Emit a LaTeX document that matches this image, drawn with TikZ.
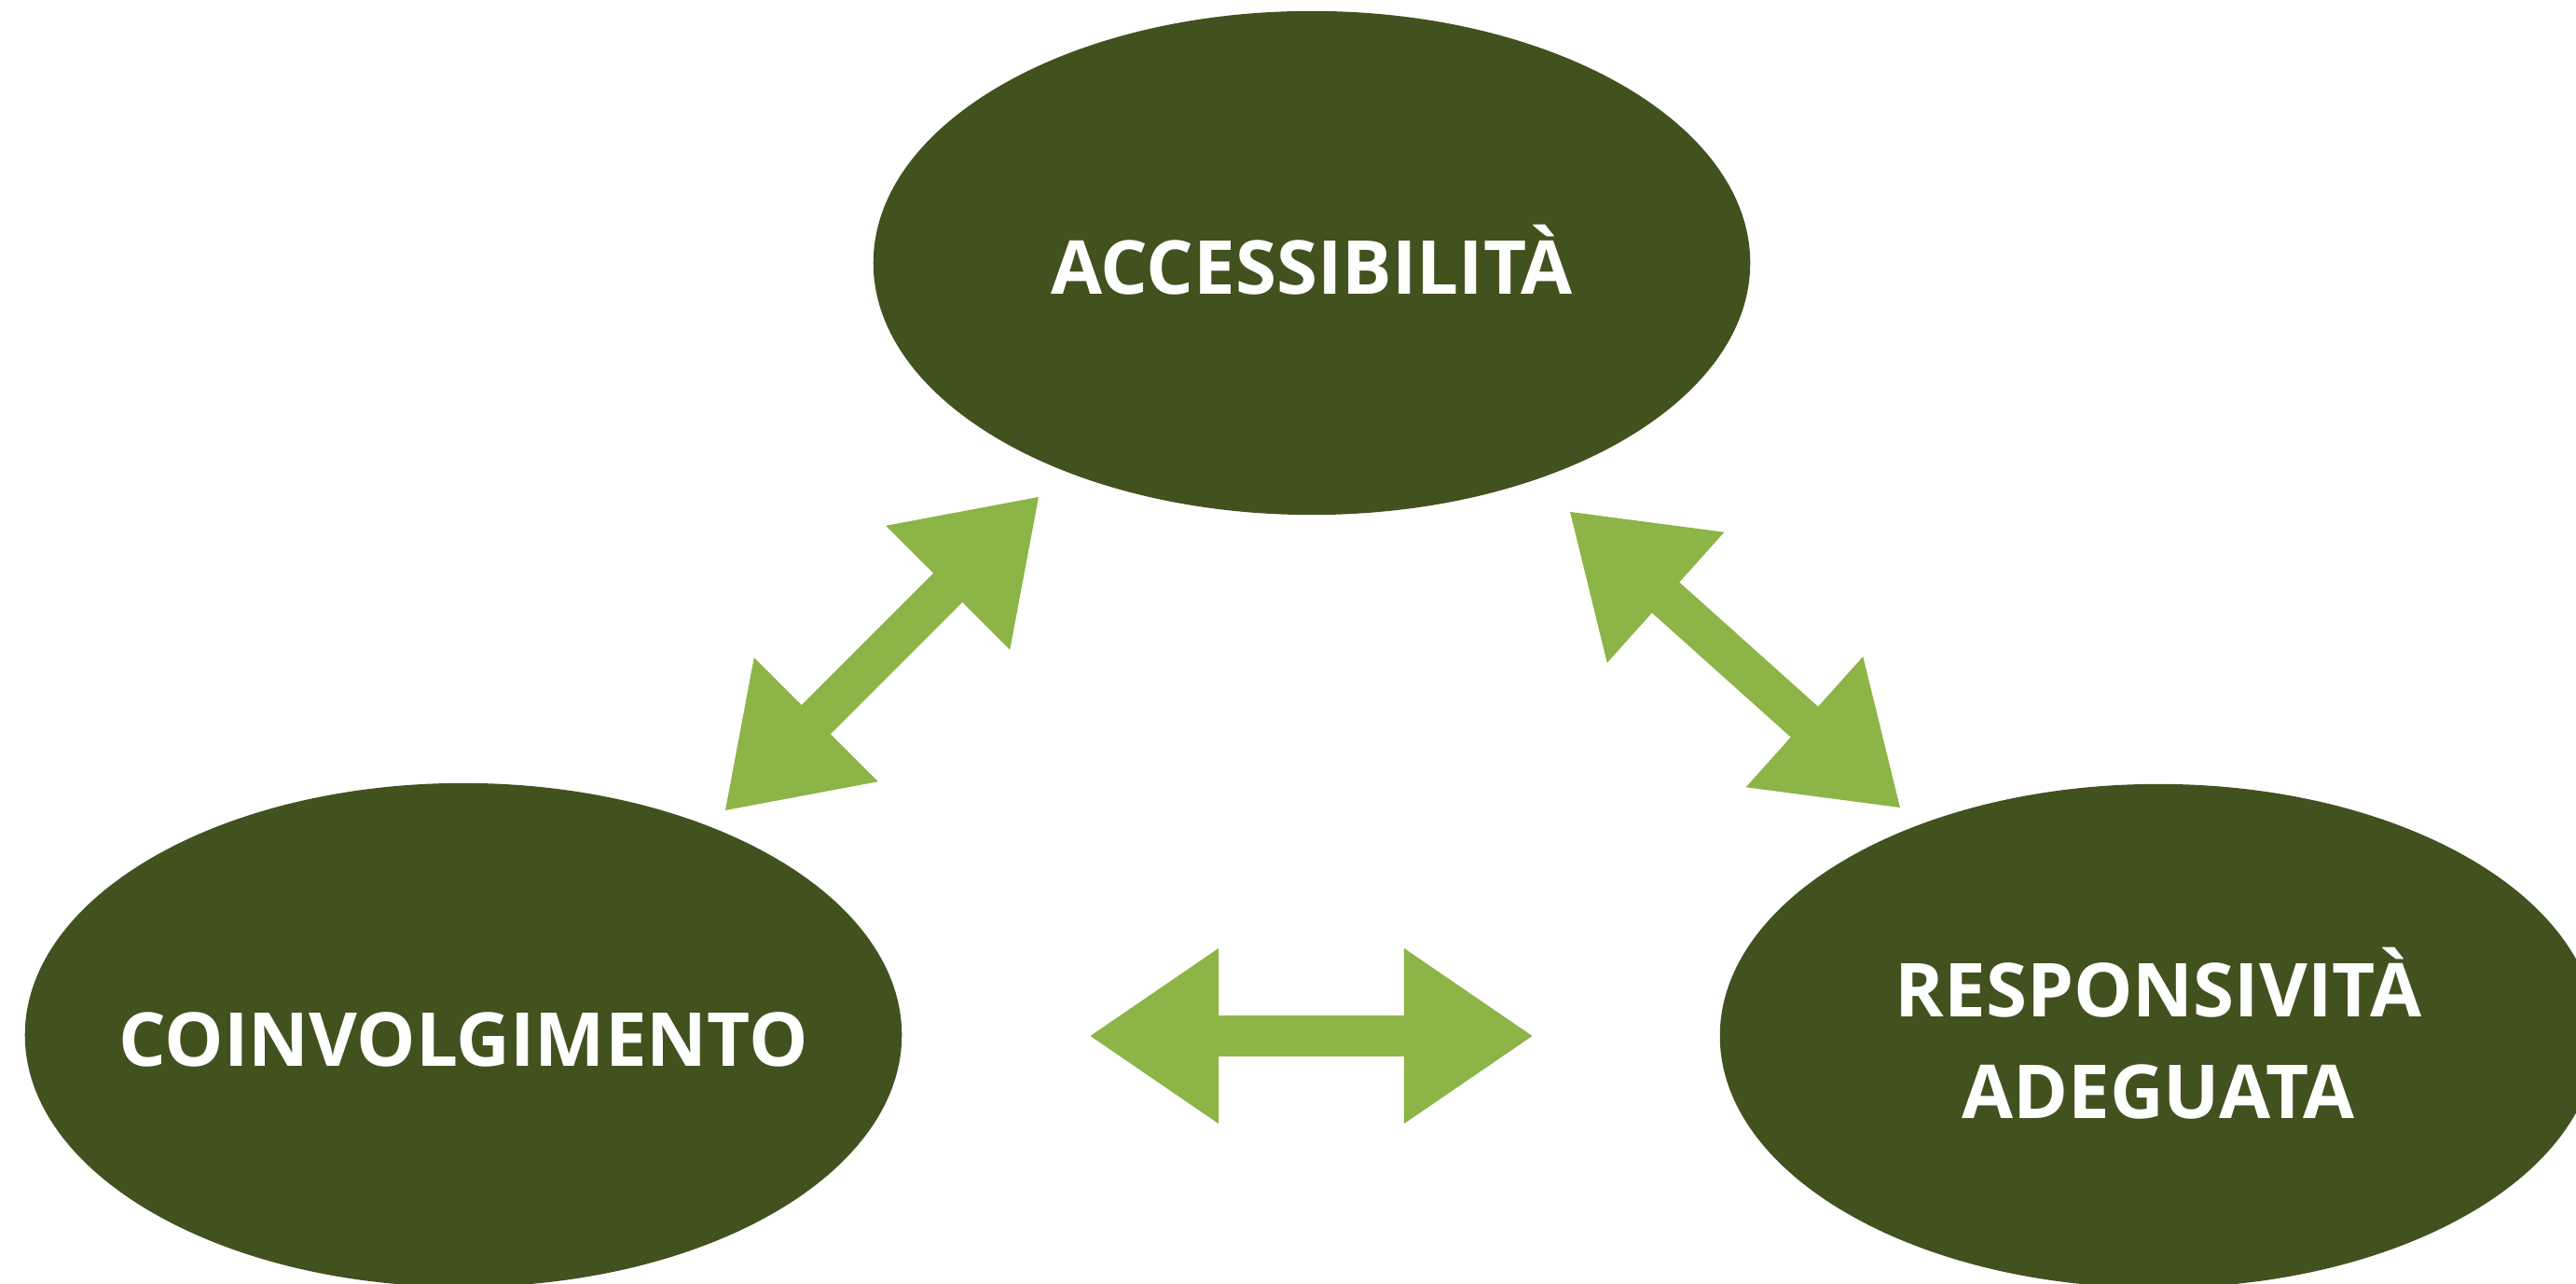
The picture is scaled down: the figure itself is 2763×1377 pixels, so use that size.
\documentclass[tikz,border=0pt]{standalone}
\usepackage{fontspec}
\setmainfont{Open Sans}
\usetikzlibrary{arrows.meta, shapes.geometric}

\definecolor{oliveDark}{HTML}{41521F}
\definecolor{oliveLight}{HTML}{8DB446}

\tikzset{
  bubble/.style={ellipse, fill=oliveDark, minimum width=9.4cm, minimum height=5.4cm, inner sep=0pt},
  caption/.style={text=white, align=center, inner sep=0pt, text height=0.67cm, text depth=0pt,
    font=\fontsize{22.7}{31}\selectfont\bfseries},
  link/.style={oliveLight, line width=0.44cm,
    {Triangle[length=1.39cm, width=1.78cm]}-{Triangle[length=1.39cm, width=1.78cm]}}
}

\begin{document}
\begin{tikzpicture}[x=0.01cm, y=-0.01cm]
  \useasboundingbox (0,0) rectangle (2763,1377);

  % the three ellipses
  \node[bubble, label={[caption]center:ACCESSIBILITÀ}] (acc) at (1407,282) {};
  \node[bubble, label={[caption]center:COINVOLGIMENTO}] (coin) at (497,1110) {};
  \node[bubble, label={[caption, text height=1.76cm]center:RESPONSIVITÀ\\ADEGUATA}] (resp) at (2315,1111) {};

  % free ends of the double arrows
  \coordinate (accSW) at (1115,532);
  \coordinate (coinNE) at (777,870);
  \coordinate (accSE) at (1683,548);
  \coordinate (respNW) at (2039,867);
  \coordinate (coinE) at (1168,1111);
  \coordinate (respW) at (1645,1111);

  % double arrows
  \draw[link] (coinNE) -- (accSW);
  \draw[link] (accSE) -- (respNW);
  \draw[link] (coinE) -- (respW);
\end{tikzpicture}
\end{document}
